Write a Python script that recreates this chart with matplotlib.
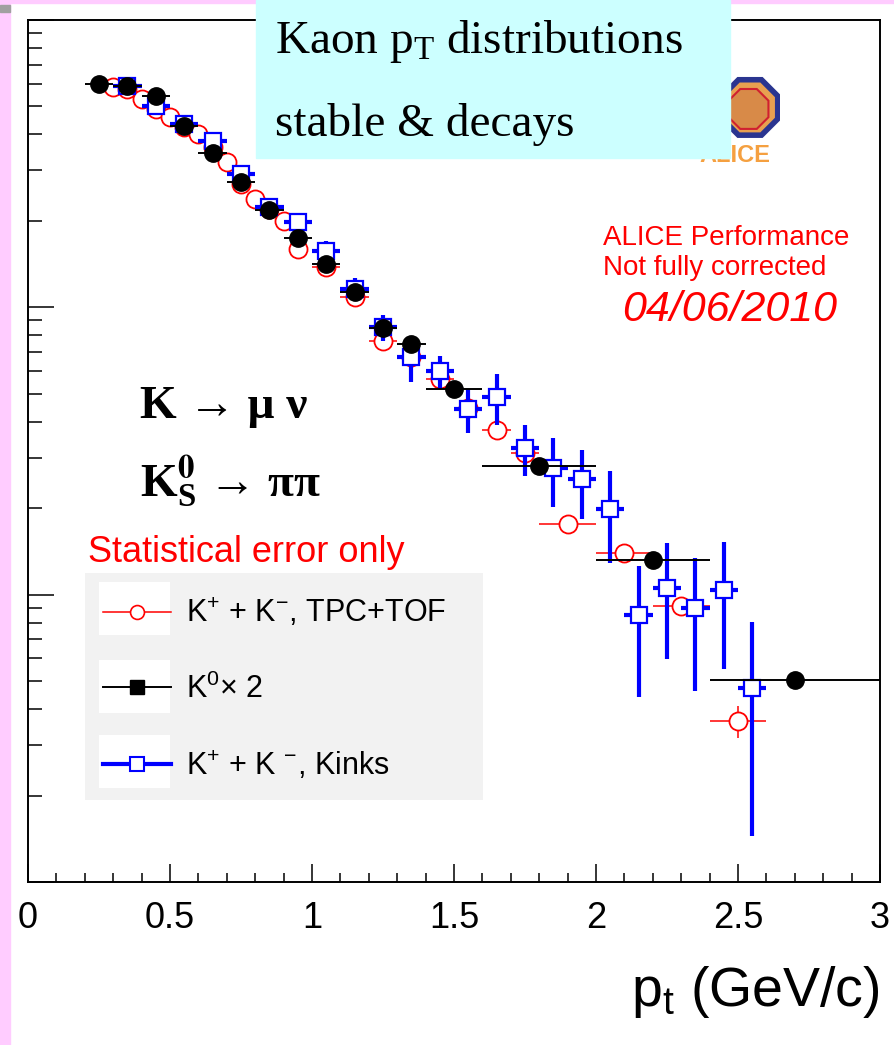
import matplotlib
matplotlib.use("Agg")
import matplotlib.pyplot as plt
from matplotlib.lines import Line2D
from matplotlib.patches import Rectangle, RegularPolygon
from matplotlib.ticker import MultipleLocator, NullFormatter

plt.rcParams['mathtext.default'] = 'regular'

# K+ + K-, TPC+TOF (red open circles)
tof_pt = [0.30, 0.35, 0.40, 0.45, 0.50, 0.55, 0.60, 0.65, 0.70, 0.75, 0.80, 0.85, 0.90, 0.95,
          1.05, 1.15, 1.25, 1.35, 1.45, 1.55, 1.65, 1.75, 1.9, 2.1, 2.3, 2.5]
tof_y = [0.584, 0.575, 0.530, 0.490, 0.459, 0.424, 0.401, 0.361, 0.320, 0.268, 0.238, 0.2195, 0.1994, 0.1593,
         0.1378, 0.1083, 0.0761, 0.0670, 0.0561, 0.0448, 0.0373, 0.0312, 0.01768, 0.01401, 0.00915, 0.00364]
tof_xerr = [0.025] * 14 + [0.05] * 8 + [0.1] * 4
tof_yerr = [0.004, 0.004, 0.004, 0.003, 0.003, 0.003, 0.003, 0.003, 0.003, 0.003, 0.003, 0.003, 0.003, 0.003,
            0.002, 0.002, 0.002, 0.002, 0.002, 0.0015, 0.0015, 0.0012, 0.0008, 0.0007, 0.0006, 0.00046]

# K0 x 2 (black)
k0_pt = [0.25, 0.35, 0.45, 0.55, 0.65, 0.75, 0.85, 0.95, 1.05, 1.15, 1.25, 1.35, 1.5, 1.8, 2.2, 2.7]
k0_y = [0.598, 0.589, 0.543, 0.427, 0.344, 0.273, 0.218, 0.175, 0.141, 0.113, 0.0845, 0.0743,
        0.0518, 0.0281, 0.01324, 0.00505]
k0_xerr = [0.05] * 12 + [0.1, 0.2, 0.2, 0.3]
k0_yerr = [0.02, 0.02, 0.02, 0.015, 0.012, 0.01, 0.008, 0.007, 0.006, 0.005, 0.004, 0.004,
           0.002, 0.0012, 0.0006, 0.0003]

# K+ + K-, kinks (blue open squares)
kink_pt = [0.35, 0.45, 0.55, 0.65, 0.75, 0.85, 0.95, 1.05, 1.15, 1.25, 1.35, 1.45, 1.55, 1.65,
           1.75, 1.85, 1.95, 2.05, 2.15, 2.25, 2.35, 2.45, 2.55]
kink_y = [0.589, 0.502, 0.434, 0.379, 0.291, 0.223, 0.198, 0.157, 0.1155, 0.0852, 0.0670, 0.0598, 0.0441,
          0.0486, 0.0325, 0.0277, 0.0252, 0.01994, 0.00852, 0.01058, 0.00901, 0.01041, 0.00474]
kink_xerr = [0.05] * 23
kink_yerr = [0.01, 0.01, 0.008, 0.008, 0.007, 0.006, 0.013, 0.013, 0.0106, 0.009, 0.012, 0.008, 0.0077,
             0.0098, 0.0066, 0.0075, 0.0068, 0.0071, 0.0041, 0.0046, 0.0044, 0.0049, 0.0033]

xtick_pos = [0, 0.5, 1, 1.5, 2, 2.5, 3]
xtick_labels = ['0', '0.5', '1', '1.5', '2', '2.5', '3']

W, H = 894, 1045
fig = plt.figure(figsize=(W / 100, H / 100), dpi=100)

# pink page border
fig.patches.append(Rectangle((0, 0), 10 / W, 1, transform=fig.transFigure,
                             color='#ffccff', zorder=0))
fig.patches.append(Rectangle((0, 1 - 3 / H), 1, 3 / H, transform=fig.transFigure,
                             color='#ffccff', zorder=0))
fig.patches.append(Rectangle((0, 1 - 12 / H), 10 / W, 7 / H, transform=fig.transFigure,
                             color='#a0a0a0', zorder=0))

ax = fig.add_axes([28 / W, 163 / H, 852 / W, 862 / H])
ax.set_xlim(0, 3)
ax.set_yscale('log')
ax.set_ylim(1e-3, 1)

ax.errorbar(tof_pt, tof_y, xerr=tof_xerr, yerr=tof_yerr, fmt='o', ms=13, mfc='white', mec='red',
            mew=1.3, color='red', ecolor='red', elinewidth=1.1, capsize=0, zorder=2)
ax.errorbar(kink_pt, kink_y, xerr=kink_xerr, yerr=kink_yerr, fmt='s', ms=12, mfc='white', mec='blue',
            mew=1.6, ecolor='blue', elinewidth=3, capsize=0, zorder=3)
ax.errorbar(k0_pt, k0_y, xerr=k0_xerr, yerr=k0_yerr, fmt='o', ms=12.5, color='black',
            ecolor='black', elinewidth=1.4, capsize=0, zorder=4)

for s in ax.spines.values():
    s.set_linewidth(1.4)
ax.set_xticks(xtick_pos)
ax.set_xticklabels(xtick_labels, family='Liberation Sans', fontsize=26)
ax.xaxis.set_minor_locator(MultipleLocator(0.1))
ax.tick_params(axis='x', which='major', direction='in', length=13, width=1.1, pad=14, top=False)
ax.tick_params(axis='x', which='minor', direction='in', length=6.5, width=1.1, top=False)
ax.tick_params(axis='y', which='major', direction='in', length=19, width=1.1, right=False, labelleft=False)
ax.tick_params(axis='y', which='minor', direction='in', length=10, width=1.1, right=False, labelleft=False)
ax.yaxis.set_minor_formatter(NullFormatter())
ax.set_xlabel('p$_{t}$ (GeV/c)', loc='right', fontsize=40, family='Liberation Sans',
              math_fontfamily='dejavusans', labelpad=20)

# legend background and white handle boxes
ax.add_patch(Rectangle((0.067, 0.095), 0.467, 0.263, transform=ax.transAxes,
                       facecolor='#f2f2f2', edgecolor='none', zorder=5))
for yb in (0.2865, 0.196, 0.109):
    ax.add_patch(Rectangle((0.0833, yb), 0.0834, 0.062, transform=ax.transAxes,
                           facecolor='white', edgecolor='none', zorder=5.1))

handles = [
    Line2D([], [], color='red', lw=1.1, marker='o', ms=10, mfc='white', mec='red', mew=1.2),
    Line2D([], [], color='black', lw=1.4, marker='s', ms=10),
    Line2D([], [], color='blue', lw=3, marker='s', ms=10, mfc='white', mec='blue', mew=1.5),
]
labels = ['K$^{+}$ + K$^{-}$, TPC+TOF', 'K$^{0}$× 2', 'K$^{+}$ + K $^{-}$, Kinks']
leg = ax.legend(handles, labels, loc='lower left', bbox_to_anchor=(0.067, 0.095, 0.467, 0.263),
                mode='expand', borderaxespad=0, handlelength=2.2, handletextpad=0.5,
                labelspacing=1.45, borderpad=0.6, frameon=False,
                prop={'family': 'Liberation Sans', 'size': 22})
leg.set_zorder(6)

# ALICE logo
lax = fig.add_axes([690 / W, 1 - 175 / H, 90 / W, 100 / H], zorder=2)
lax.set_xlim(-1.5, 1.5)
lax.set_ylim(-2.1, 1.23)
lax.set_aspect('equal')
lax.axis('off')
lax.add_patch(RegularPolygon((0.5, 0.15), 8, radius=1.0, orientation=3.14159 / 8,
                             facecolor='#e8a050', edgecolor='#2a3590', lw=4))
lax.add_patch(RegularPolygon((0.45, 0.1), 8, radius=0.72, orientation=3.14159 / 8,
                             facecolor='#d88a48', edgecolor='#d02030', lw=1.5))
lax.text(0.0, -1.45, 'ALICE', ha='center', va='center', color='#f5a040', fontsize=17,
         fontweight='bold', family='Liberation Sans')

# title box
fig.patches.append(Rectangle((256 / W, 1 - 158 / H), 474 / W, 158 / H, transform=fig.transFigure,
                             color='#ccffff', zorder=5))
fig.text(275 / W, 1 - 42 / H, 'Kaon p$_{T}$ distributions', fontsize=34, family='Liberation Serif',
         math_fontfamily='stix', va='center', ha='left', zorder=6)
fig.text(275 / W, 1 - 125 / H, 'stable & decays', fontsize=34, family='Liberation Serif',
         va='center', ha='left', zorder=6)

serif_bold = dict(fontsize=34, fontweight='bold', family=['Liberation Serif', 'DejaVu Serif'],
                  va='center', ha='left', math_fontfamily='stix')
fig.text(140 / W, 1 - 407 / H, 'K → μ ν', **serif_bold)
fig.text(140 / W, 1 - 482 / H, r'K$^{\mathbf{0}}_{S}$ → ππ', **serif_bold)

fig.text(88 / W, 1 - 552 / H, 'Statistical error only', color='red', fontsize=26,
         family='Liberation Sans', va='center', ha='left')

fig.text(603 / W, 1 - 238 / H, 'ALICE Performance', color='red', fontsize=20,
         family='Liberation Sans', va='center', ha='left')
fig.text(603 / W, 1 - 268 / H, 'Not fully corrected', color='red', fontsize=20,
         family='Liberation Sans', va='center', ha='left')
fig.text(622 / W, 1 - 310 / H, '04/06/2010', color='red', fontsize=31, style='italic',
         family='Liberation Sans', va='center', ha='left')

fig.savefig('out.png', dpi=100)
